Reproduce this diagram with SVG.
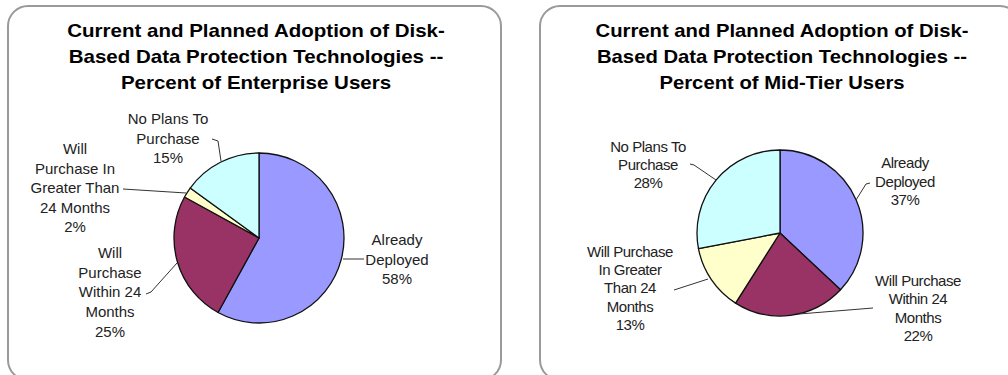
<svg xmlns="http://www.w3.org/2000/svg" width="1008" height="375" viewBox="0 0 1008 375">
<style>
.panel{fill:#fff;stroke:#9a9a9a;stroke-width:2}
.title{font-family:"Liberation Sans",Arial,sans-serif;font-weight:bold;font-size:18px;fill:#000;text-anchor:middle}
.lbl{font-family:"Liberation Sans",Arial,sans-serif;font-size:15px;fill:#222;text-anchor:middle}
.lbr{font-family:"Liberation Sans",Arial,sans-serif;font-size:15px;fill:#222;text-anchor:middle;letter-spacing:-0.45px}
.slice{stroke:#111;stroke-width:1.3;stroke-linejoin:round}
.s1{fill:#9999FF}.s2{fill:#993366}.s3{fill:#FFFFCC}.s4{fill:#CCFFFF}
.lead{fill:none;stroke:#333;stroke-width:1}
</style>
<rect width="1008" height="375" fill="#fff"/>
<g id="panel-enterprise">
<rect class="panel" x="8" y="6" width="493" height="374" rx="20"/>
<g class="title">
<text transform="translate(256,37) scale(1.14,1)">Current and Planned Adoption of Disk-</text>
<text transform="translate(256,63) scale(1.14,1)">Based Data Protection Technologies --</text>
<text transform="translate(256,89) scale(1.14,1)">Percent of Enterprise Users</text>
</g>
</g>
<g id="panel-midtier">
<rect class="panel" x="540" y="6" width="480" height="374" rx="20"/>
<g class="title">
<text transform="translate(782,37) scale(1.127,1)">Current and Planned Adoption of Disk-</text>
<text transform="translate(782,63) scale(1.127,1)">Based Data Protection Technologies --</text>
<text transform="translate(782,89) scale(1.127,1)">Percent of Mid-Tier Users</text>
</g>
</g>
<g id="pie-enterprise">
<path id="e-deployed" class="slice s1" d="M259,238 L259,153 A85,85 0 1 1 218.05,312.49 Z"/>
<path id="e-within24" class="slice s2" d="M259,238 L218.05,312.49 A85,85 0 0 1 184.51,197.05 Z"/>
<path id="e-greater24" class="slice s3" d="M259,238 L184.51,197.05 A85,85 0 0 1 190.23,188.04 Z"/>
<path id="e-noplans" class="slice s4" d="M259,238 L190.23,188.04 A85,85 0 0 1 259,153 Z"/>
</g>
<g id="pie-midtier">
<path id="m-deployed" class="slice s1" d="M780,233 L780,150 A83,83 0 0 1 840.51,289.81 Z"/>
<path id="m-within24" class="slice s2" d="M780,233 L840.51,289.81 A83,83 0 0 1 735.53,303.08 Z"/>
<path id="m-greater24" class="slice s3" d="M780,233 L735.53,303.08 A83,83 0 0 1 698.47,248.55 Z"/>
<path id="m-noplans" class="slice s4" d="M780,233 L698.47,248.55 A83,83 0 0 1 780,150 Z"/>
</g>
<g id="connectors">
<polyline class="lead" points="212,139 218,141 221,161"/>
<polyline class="lead" points="123,189 186,193"/>
<polyline class="lead" points="146,294 151,292 177,263"/>
<polyline class="lead" points="343,259 364,259"/>
<polyline class="lead" points="690,164 694,165 716,180"/>
<polyline class="lead" points="870,183 866,184 856,200"/>
<polyline class="lead" points="873,308 799,314"/>
<polyline class="lead" points="674,290 708,279"/>
</g>
<g id="label-e-noplans" class="lbl">
<text x="168" y="124">No Plans To</text>
<text x="168" y="144">Purchase</text>
<text x="168" y="163">15%</text>
</g>
<g id="label-e-greater24" class="lbl">
<text x="75" y="154">Will</text>
<text x="75" y="174">Purchase In</text>
<text x="75" y="193">Greater Than</text>
<text x="75" y="213">24 Months</text>
<text x="75" y="232">2%</text>
</g>
<g id="label-e-within24" class="lbl">
<text x="110" y="258">Will</text>
<text x="110" y="278">Purchase</text>
<text x="110" y="297">Within 24</text>
<text x="110" y="317">Months</text>
<text x="110" y="337">25%</text>
</g>
<g id="label-e-deployed" class="lbl">
<text x="397" y="245">Already</text>
<text x="397" y="265">Deployed</text>
<text x="397" y="284">58%</text>
</g>
<g id="label-m-noplans" class="lbr">
<text x="648" y="152">No Plans To</text>
<text x="648" y="170">Purchase</text>
<text x="648" y="188">28%</text>
</g>
<g id="label-m-greater24" class="lbr">
<text x="630" y="257">Will Purchase</text>
<text x="630" y="275">In Greater</text>
<text x="630" y="293">Than 24</text>
<text x="630" y="312">Months</text>
<text x="630" y="330">13%</text>
</g>
<g id="label-m-deployed" class="lbr">
<text x="905" y="168">Already</text>
<text x="905" y="187">Deployed</text>
<text x="905" y="205">37%</text>
</g>
<g id="label-m-within24" class="lbr">
<text x="918" y="286">Will Purchase</text>
<text x="918" y="304">Within 24</text>
<text x="918" y="323">Months</text>
<text x="918" y="341">22%</text>
</g>
</svg>
